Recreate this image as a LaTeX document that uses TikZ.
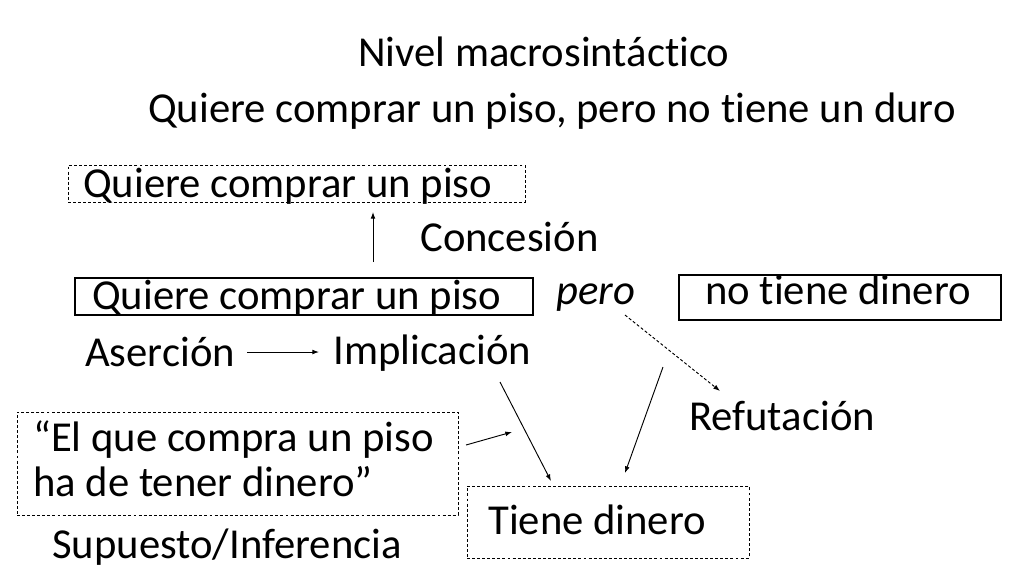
\documentclass[tikz,border=0pt]{standalone}
\usepackage{fontspec}
\setmainfont[Ligatures={NoCommon}]{Carlito}
\usetikzlibrary{arrows.meta,fit}
\begin{document}
\begin{tikzpicture}[x=0.75pt,y=-0.75pt,
  txt/.style={inner sep=0pt, anchor=base west, font=\fontsize{32}{35}\selectfont},
  sbox/.style={draw, line width=0.8pt, inner sep=0pt},
  dbox/.style={draw, line width=0.7pt, dash pattern=on 2.2pt off 1.6pt, inner sep=0pt},
  arr/.style={line width=0.7pt, -{Latex[length=5pt,width=3.6pt]}},
  darr/.style={arr, dash pattern=on 2.2pt off 1.6pt}]
\useasboundingbox[fill=white] (0,0) rectangle (1024,576);
% titles
\node[txt] (tit) at (358,66) {Nivel macrosintáctico};
\node[txt] (sub) at (148,122) {Quiere comprar un piso, pero no tiene un duro};
% boxes
\node[dbox, fit={(68,165) (525,202)}] (b1) {};
\node[sbox, fit={(75,278) (533,315)}] (b2) {};
\node[sbox, fit={(679,275) (1001,320)}] (b3) {};
\node[dbox, fit={(17,412) (458,515)}] (b4) {};
\node[dbox, fit={(467,486) (749,558)}] (b5) {};
% texts
\node[txt] (q1) at (83,197) {Quiere comprar un piso};
\node[txt] (conc) at (420,251) {Concesión};
\node[txt] (q2) at (92,309) {Quiere comprar un piso};
\node[txt] (pero) at (556,304) {\itshape pero};
\node[txt] (ntd) at (705,304) {no tiene dinero};
\node[txt] (ases) at (85,366) {Aserción};
\node[txt] (impl) at (333,364) {Implicación};
\node[txt] (refu) at (689,430) {Refutación};
\node[txt] (elq1) at (33,451) {“El que compra un piso};
\node[txt] (elq2) at (33,496) {ha de tener dinero”};
\node[txt] (tdin) at (488,534) {Tiene dinero};
\node[txt] (supu) at (52,558) {Supuesto/Inferencia};
% arrow ends
\coordinate (u0) at (373,262); \coordinate (u1) at (373,212);
\coordinate (h0) at (247,352); \coordinate (h1) at (319,352);
\coordinate (p0) at (625,315); \coordinate (p1) at (720,391);
\coordinate (i0) at (500,382); \coordinate (i1) at (551,481);
\coordinate (n0) at (663,367); \coordinate (n1) at (625,473);
\coordinate (e0) at (466,445); \coordinate (e1) at (512,432);
\draw[arr] (u0) -- (u1);
\draw[arr] (h0) -- (h1);
\draw[darr] (p0) -- (p1);
\draw[arr] (i0) -- (i1);
\draw[arr] (n0) -- (n1);
\draw[arr] (e0) -- (e1);
\end{tikzpicture}
\end{document}
